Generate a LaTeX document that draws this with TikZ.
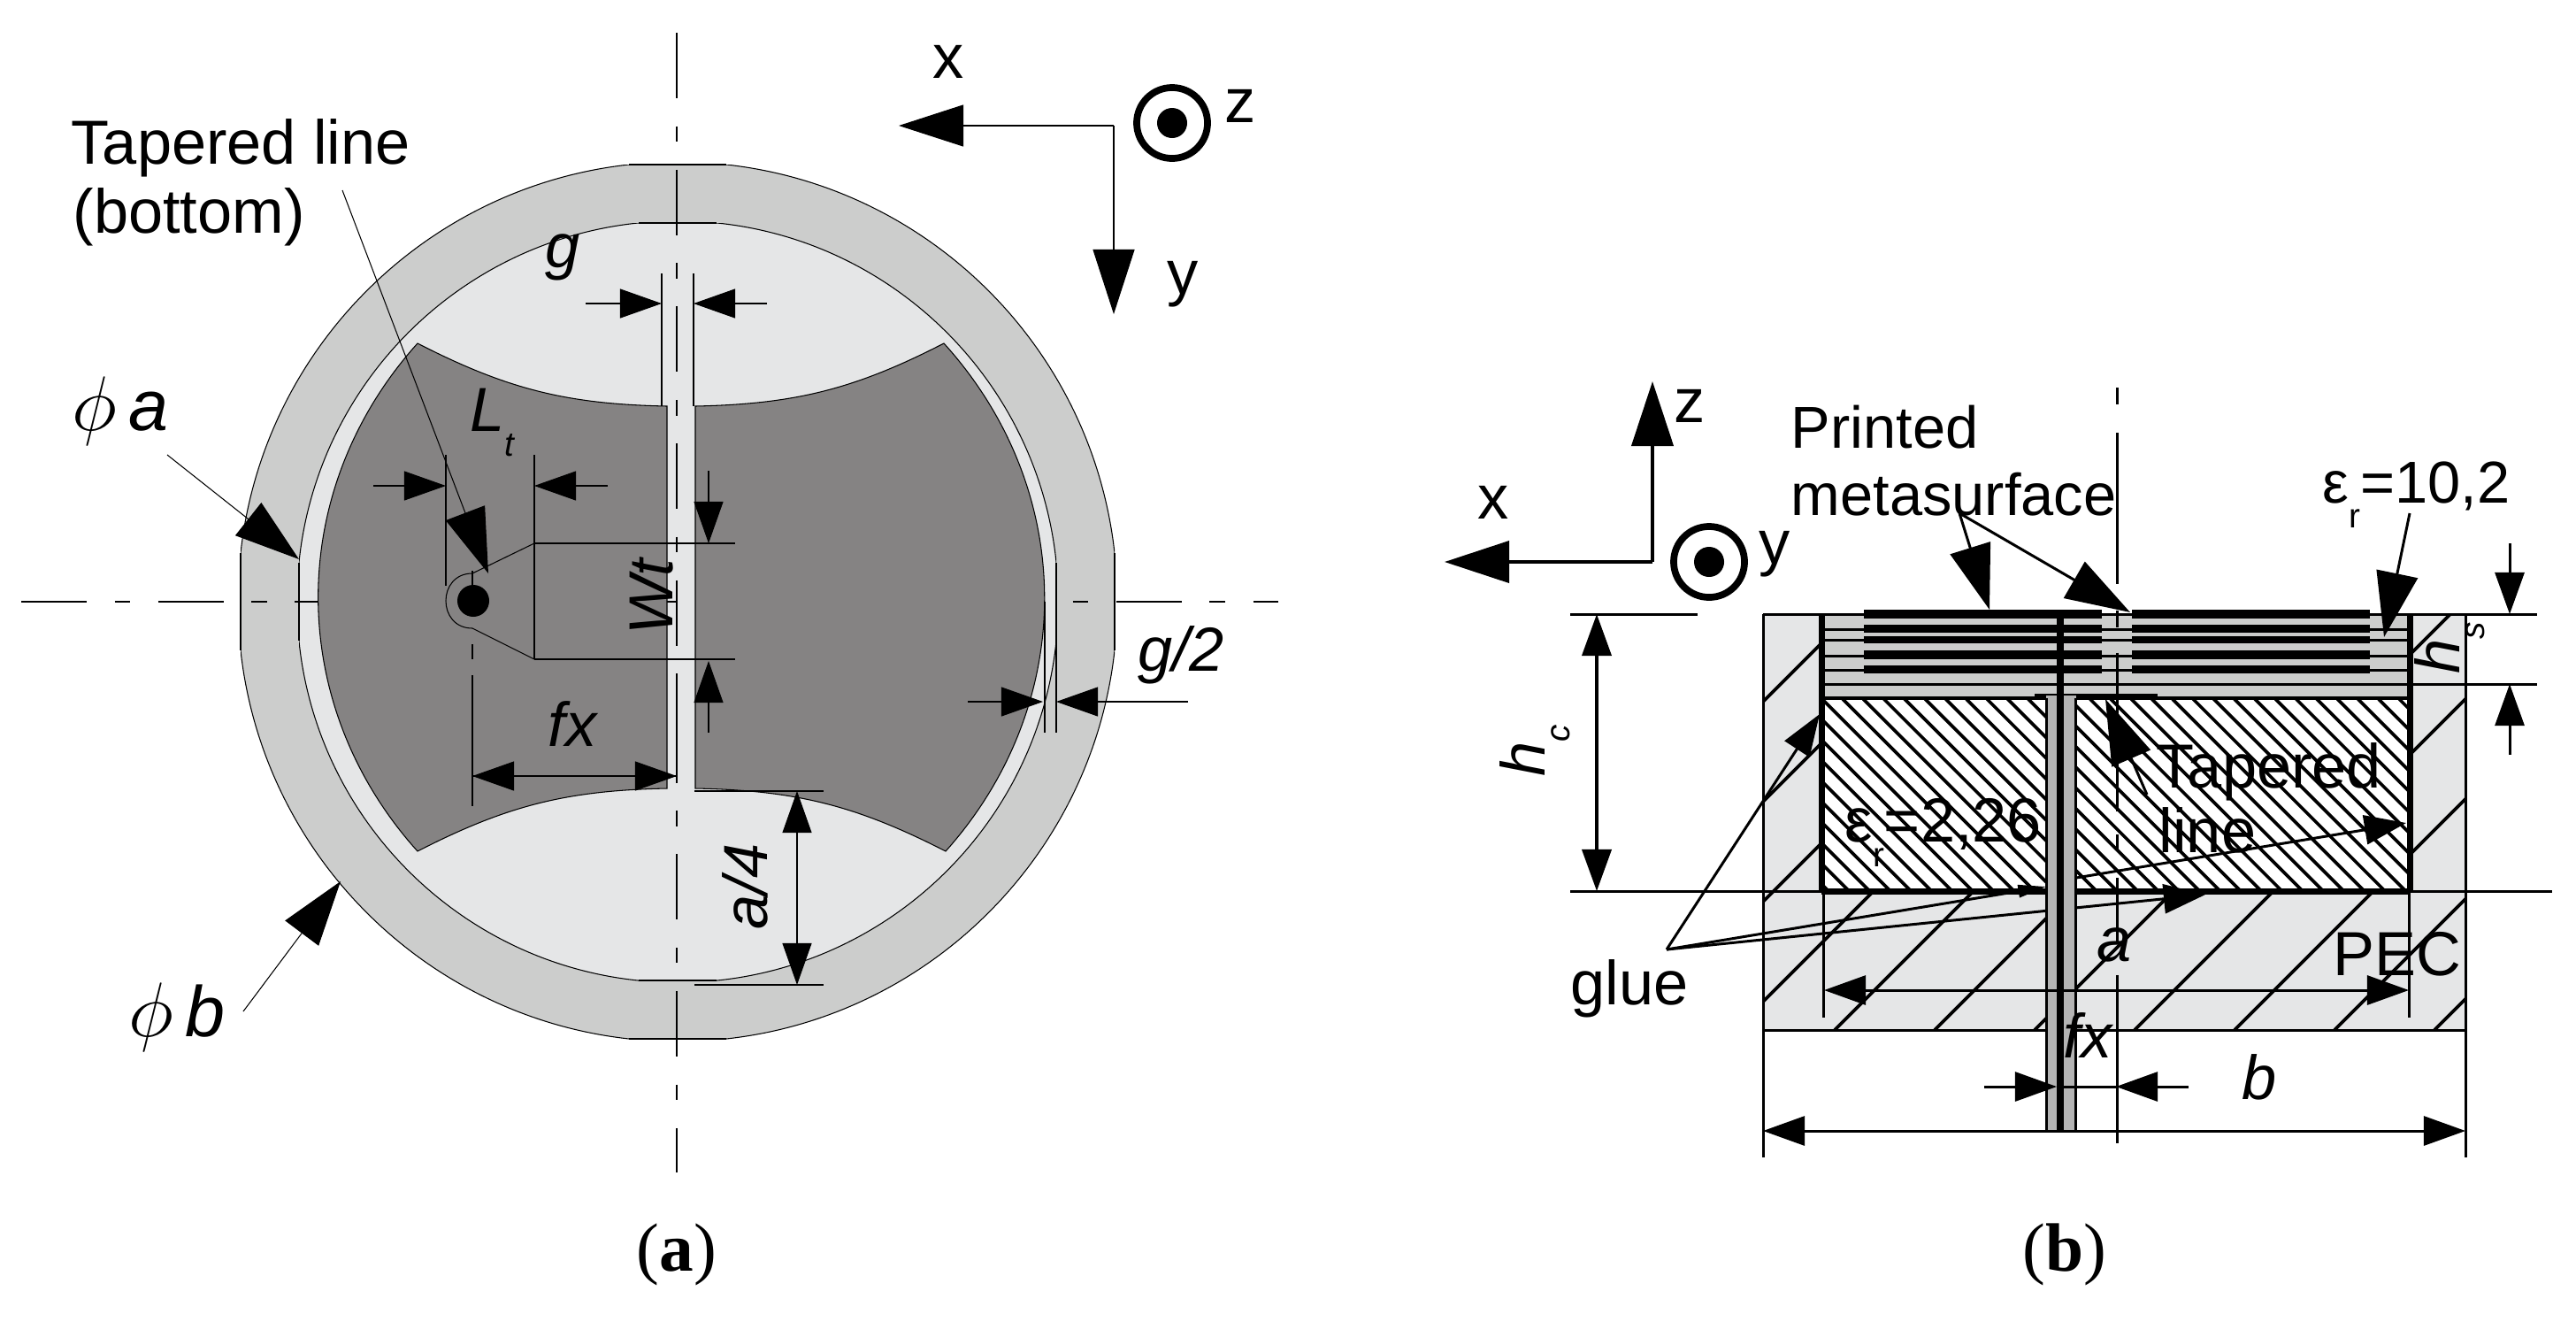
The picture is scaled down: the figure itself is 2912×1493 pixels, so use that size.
\documentclass[tikz,border=0pt]{standalone}
\usepackage{fontspec}
\setmainfont{Liberation Sans}
\newfontfamily\captionfont{Liberation Serif}
\usetikzlibrary{arrows.meta}
\definecolor{ringgray}{HTML}{CCCDCC}
\definecolor{lightgray}{HTML}{E5E6E7}
\definecolor{patchgray}{HTML}{858383}
\definecolor{pingray}{HTML}{B4B4B4}
\newcommand{\lowtext}[1]{\raisebox{-8pt}{\fontsize{11}{11}\selectfont #1}}

\begin{document}
\begin{tikzpicture}[x=0.01cm, y=-0.01cm,
	thinline/.style={line width=0.3pt},
	boldline/.style={line width=0.85pt},
	hatchline/.style={line width=1.05pt},
	axisline/.style={thinline, dash pattern=on 21pt off 9pt on 5pt off 9pt},
	smallhead/.style={-{Triangle[length=13.4pt,width=9.4pt]}},
	bighead/.style={-{Triangle[length=20.8pt,width=13.4pt]}},
	txt/.style={inner sep=0pt, font=\fontsize{20}{24}\selectfont},
	smalltxt/.style={inner sep=0pt, font=\fontsize{19}{23}\selectfont},
	itxt/.style={txt, font=\fontsize{20}{24}\selectfont\itshape},
	captxt/.style={inner sep=0pt, font=\fontsize{22}{26}\selectfont\captionfont},
	target/.style={circle, draw, fill=white, line width=2.2pt, minimum size=0.8cm, inner sep=0pt}]
	\useasboundingbox (0,0) rectangle (2912,1493);

	\begin{scope}
		\clip (272,186) rectangle (1260,1174);
		\filldraw[thinline, fill=ringgray] (766,680) circle (497);
	\end{scope}
	\draw[thinline] (711,186) -- (821,186) (711,1174) -- (821,1174) (272,625) -- (272,735) (1260,625) -- (1260,735);
	\begin{scope}
		\clip (338,252) rectangle (1194,1108);
		\filldraw[thinline, fill=lightgray] (766,680) circle (430.3);
	\end{scope}
	\draw[thinline] (722,252) -- (810,252) (722,1108) -- (810,1108) (338,636) -- (338,724) (1194,636) -- (1194,724);
	\draw[axisline] (765,37) -- (765,1325);
	\draw[axisline] (24,680) -- (1445,680);
	\filldraw[thinline, fill=patchgray] (472,388) to[bend right=13] (754,459) -- (754,891) to[bend right=13] (472,962) to[bend left=42] cycle;
	\filldraw[thinline, fill=patchgray] (786,459) to[bend right=13] (1067,388) to[bend left=42] (1069,962) to[bend right=13] (786,891) -- cycle;
	\draw[thinline] (765,763) -- (765,875);

	\draw[thinline] (604,614) -- (534,648) .. controls (494,648) and (494,710) .. (534,710) -- (604,745);
	\fill (535,679) circle (18);
	\draw[thinline] (534,645) -- (534,661) (534,728) -- (534,745) (534,763) -- (534,911);
	\draw[thinline] (748,309) -- (748,459) (784,309) -- (784,459);
	\draw[thinline, smallhead] (662,343) -- (748,343);
	\draw[thinline, smallhead] (867,343) -- (784,343);
	\draw[thinline] (504,514) -- (504,662) (604,514) -- (604,745);
	\draw[thinline, smallhead] (422,549) -- (504,549);
	\draw[thinline, smallhead] (687,549) -- (604,549);
	\draw[thinline] (604,614) -- (831,614) (604,745) -- (831,745);
	\draw[thinline, smallhead] (801,532) -- (801,614);
	\draw[thinline, smallhead] (801,828) -- (801,747);
	\draw[thinline, smallhead] (534,877) -- (765,877);
	\draw[thinline, smallhead] (765,877) -- (534,877);
	\draw[thinline] (785,894) -- (931,894) (785,1113) -- (931,1113);
	\draw[thinline, smallhead] (901,1000) -- (901,894);
	\draw[thinline, smallhead] (901,1000) -- (901,1113);
	\draw[thinline, smallhead] (1094,793) -- (1179,793);
	\draw[thinline, smallhead] (1343,793) -- (1194,793);
	\draw[thinline] (1181,680) -- (1181,828) (1194,680) -- (1194,828);
	\draw[thinline, bighead] (387,215) -- (552,648);
	\draw[thinline, bighead] (189,514) -- (338,632);
	\draw[thinline, bighead] (275,1143) -- (385,996);
	\draw[thinline, bighead] (1259,142) -- (1016,142);
	\draw[thinline, bighead] (1259,142) -- (1259,355);
	\node[target] (ztarget) at (1325,139) {};
	\fill (ztarget.center) circle (17);

	\node[txt, anchor=base west] (tapered) at (80,185) {Tapered line};
	\node[txt, anchor=base west] (bottom) at (82,263) {(bottom)};
	\node[itxt] (labelg) at (636,291) {g};
	\node[itxt, anchor=base west] (labelLt) at (531,487) {L\lowtext{t}};
	\node[itxt, rotate=90] (labelWt) at (737,675) {Wt};
	\node[itxt] (labelfx) at (647,818) {fx};
	\node[itxt, rotate=90] (labelaq) at (842,1002) {a/4};
	\node[itxt] (labelgh) at (1335,740) {g/2};
	\node[itxt, font=\fontsize{23}{27}\selectfont\itshape] (labelphia) at (136,465) {$\phi$\,a};
	\node[itxt, font=\fontsize{23}{27}\selectfont\itshape] (labelphib) at (200,1150) {$\phi$\,b};
	\node[txt] (labelxa) at (1072,70) {x};
	\node[txt] (labelya) at (1337,321) {y};
	\node[txt] (labelza) at (1402,120) {z};
	\node[captxt] (capa) at (765,1418) {(\textbf{a})};

	\fill[lightgray] (1993,694) rectangle (2787,1164);
	\begin{scope}
		\clip (1993,694) rectangle (2787,1164);
		\foreach \k in {-8,...,3}
			\draw[hatchline] ({3577+113*\k-694},694) -- ({3577+113*\k-1164},1164);
	\end{scope}
	\fill[white] (2059,790) rectangle (2723,1007);
	\begin{scope}
		\clip (2059,790) rectangle (2723,1007);
		\foreach \k in {-14,...,36}
			\draw[hatchline] ({1293+23.3*\k+790},790) -- ({1293+23.3*\k+1007},1007);
	\end{scope}
	\fill[ringgray] (2059,694) rectangle (2723,790);
	\draw[boldline] (2059,711) -- (2723,711) (2059,723) -- (2723,723) (2059,741) -- (2723,741) (2059,757) -- (2723,757);
	\foreach \ya/\yb in {689/699, 706/715, 719/727, 735/745, 752/761} {
		\fill (2107,\ya) rectangle (2376,\yb);
		\fill (2410,\ya) rectangle (2679,\yb);
	}
	\draw[boldline, dash pattern=on 5.4pt off 9.1pt on 48.6pt off 8.5pt on 5.4pt off 8.2pt on 51pt off 7.4pt on 4.8pt off 9.1pt on 21.3pt off 10pt on 54pt] (2393,438) -- (2393,1292);
	\draw[boldline] (1993,694) -- (1993,1308) (2787,694) -- (2787,1308);
	\draw[boldline] (1993,1164) -- (2787,1164);
	\draw[boldline] (1775,694) -- (1919,694) (1993,694) -- (2868,694);
	\draw[boldline] (2059,773) -- (2868,773);
	\draw[line width=1.2pt] (2059,789) -- (2723,789);
	\draw[boldline] (1775,1007) -- (2885,1007);
	\draw[line width=2pt] (2059,694) -- (2059,1007) (2724,694) -- (2724,1007) (2059,1007) -- (2724,1007);
	\draw[boldline] (2061,1007) -- (2061,1150) (2723,1007) -- (2723,1150);

	\draw[boldline, smallhead] (1884,1073) -- (2057,807);
	\draw[boldline, -{Triangle[length=9pt,width=4pt]}] (1884,1073) -- (2313,1002);
	\draw[boldline, smallhead] (1884,1073) -- (2493,1011);
	\draw[line width=1pt] (2300,786) -- (2439,786);
	\fill[pingray] (2313,786) rectangle (2347,1278);
	\draw[boldline] (2313,789) -- (2313,1278) (2346,789) -- (2346,1278);
	\fill (2325,694) rectangle (2333,1278);

	\draw[line width=1.1pt, bighead] (1868,635) -- (1868,431);
	\draw[line width=1.1pt, bighead] (1868,635) -- (1633,635);
	\node[target] (ytarget) at (1932,635) {};
	\fill (ytarget.center) circle (17);
	\draw[line width=1.1pt, smallhead] (1805,850) -- (1805,694);
	\draw[line width=1.1pt, smallhead] (1805,850) -- (1805,1007);
	\draw[boldline, smallhead] (2837,614) -- (2837,694);
	\draw[boldline, smallhead] (2837,853) -- (2837,773);
	\draw[boldline, smallhead] (2400,1119) -- (2062,1119);
	\draw[boldline, smallhead] (2400,1119) -- (2723,1119);
	\draw[boldline, smallhead] (2400,1278) -- (1993,1278);
	\draw[boldline, smallhead] (2400,1278) -- (2787,1278);
	\draw[boldline, smallhead] (2243,1228) -- (2325,1228);
	\draw[boldline, smallhead] (2474,1228) -- (2392,1228);
	\draw[boldline] (2325,1228) -- (2392,1228);
	\draw[boldline, bighead] (2215,580) -- (2249,689);
	\draw[boldline, bighead] (2215,580) -- (2408,692);
	\draw[boldline, bighead] (2724,580) -- (2695,720);
	\draw[boldline, bighead] (2427,898) -- (2380,790);
	\draw[boldline, smallhead] (2347,992) -- (2720,930);

	\node[smalltxt, anchor=base west] (printed) at (2024,506) {Printed};
	\node[smalltxt, anchor=base west] (metasurface) at (2024,582) {metasurface};
	\node[smalltxt, anchor=base west] (epsb) at (2625,568) {ε\lowtext{r}=10,2};
	\node[txt, anchor=base west] (epsa) at (2085,951) {ε\lowtext{r}=2,26};
	\node[txt, anchor=base west] (taperedb) at (2437,890) {Tapered};
	\node[txt, anchor=base west] (lineb) at (2440,963) {line};
	\node[txt] (labelpec) at (2710,1078) {PEC};
	\node[txt] (labelglue) at (1842,1117) {glue};
	\node[itxt] (labela) at (2390,1068) {a};
	\node[itxt] (labelb) at (2554,1217) {b};
	\node[itxt] (labelfxb) at (2360,1170) {fx};
	\node[itxt, rotate=90, anchor=base west] (labelhc) at (1746,878) {h\lowtext{c}};
	\node[itxt, rotate=90, anchor=base west] (labelhs) at (2780,762) {h\lowtext{s}};
	\node[txt] (labelxb) at (1688,568) {x};
	\node[txt] (labelyb) at (2006,626) {y};
	\node[txt] (labelzb) at (1910,459) {z};
	\node[captxt] (capb) at (2334,1418) {(\textbf{b})};
\end{tikzpicture}
\end{document}
